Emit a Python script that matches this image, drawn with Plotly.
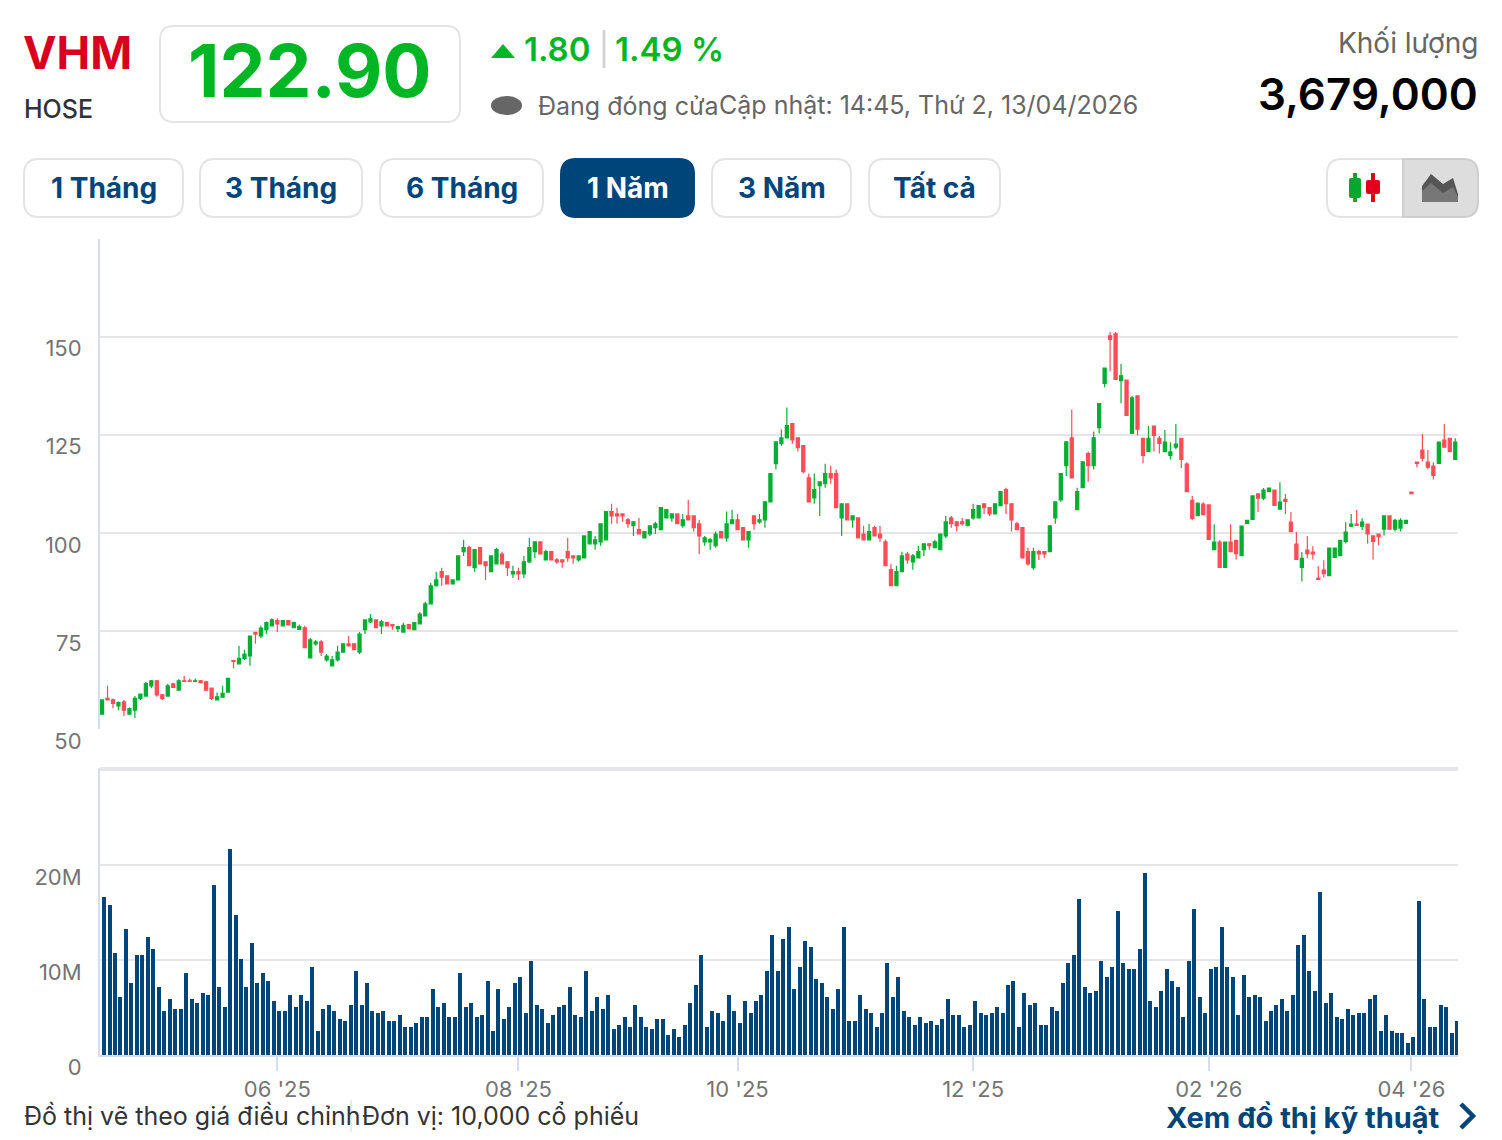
import plotly.graph_objects as go

open_px = [53.8,57.8,57.4,55.9,56.9,53.8,54.8,57.8,58.4,61.0,
62.3,58.7,58.4,61.5,59.9,62.3,62.3,62.1,62.3,62.0,
60.4,57.4,58.1,59.4,67.4,66.6,68.0,68.6,74.6,73.7,
75.3,76.3,77.6,76.3,77.6,75.8,75.4,75.8,68.1,71.7,
72.2,67.6,66.1,67.6,69.6,71.7,71.7,69.6,75.3,77.3,
77.8,76.3,77.1,76.6,75.6,74.7,76.6,75.3,76.8,78.8,
81.9,86.5,90.1,89.0,87.0,88.0,95.2,96.2,91.1,96.2,
92.6,90.1,92.1,94.6,92.6,89.5,90.1,89.5,92.6,95.2,
97.7,93.1,95.2,93.1,93.1,95.2,94.1,93.1,93.6,97.2,
97.2,97.7,98.2,105.4,104.8,104.8,103.3,101.8,100.8,98.7,
99.7,101.3,100.8,103.8,103.8,104.8,101.8,104.3,104.3,102.3,
97.7,97.7,96.7,100.3,98.7,102.3,103.3,101.3,98.2,104.3,
102.8,103.3,107.9,117.6,122.7,124.2,127.8,124.2,122.2,114.0,
108.9,112.0,112.5,115.1,115.1,103.8,107.4,103.3,103.8,99.7,
98.2,101.3,99.7,97.7,90.6,86.5,90.1,94.6,92.6,93.6,
95.7,97.2,96.2,95.7,99.2,103.8,102.8,102.8,101.8,103.8,
103.8,107.4,106.4,104.8,106.9,111.0,107.4,102.3,101.3,95.2,
91.1,95.2,95.2,95.2,103.8,108.4,117.1,124.2,105.9,111.5,
120.2,117.1,126.8,138.1,150.2,150.7,138.8,138.9,125.3,134.9,
124.1,120.7,127.2,124.1,120.7,119.7,121.8,124.1,117.5,108.3,
104.4,107.3,107.1,95.7,97.6,91.2,97.6,98.1,94.2,102.4,
103.4,109.9,108.8,110.5,110.9,106.0,108.5,102.7,97.1,91.2,
95.6,95.1,88.4,90.5,89.1,93.7,94.2,97.8,101.7,102.2,
101.7,102.2,99.2,99.7,100.9,104.3,100.9,101.2,102.4,110.4,
118.0,121.1,118.0,117.0,117.7,123.6,124.1,118.7]

high_px = [57.4,61.0,57.8,57.0,57.4,55.5,58.4,58.9,62.0,62.5,
62.5,58.9,61.5,61.8,62.7,63.5,62.9,62.9,62.5,62.3,
60.4,59.3,61.0,62.9,67.6,71.2,70.2,73.7,74.7,76.3,
77.4,78.2,78.2,77.8,77.8,77.3,76.6,76.3,73.2,72.7,
72.7,69.1,68.6,71.2,71.7,73.7,71.7,74.7,77.8,79.3,
77.8,77.8,77.1,76.8,76.3,77.1,76.6,77.3,79.8,82.4,
87.2,90.1,91.1,89.0,88.0,94.1,98.2,96.7,95.7,96.2,
92.6,94.1,96.2,95.2,92.6,91.6,91.1,94.1,98.7,97.7,
97.7,95.7,95.2,93.6,93.1,98.7,94.1,94.1,99.2,100.3,
99.2,102.3,105.4,107.4,106.4,104.8,103.8,102.8,103.8,100.3,
101.8,102.8,106.4,105.9,104.8,104.8,104.8,108.4,104.3,103.3,
99.2,98.7,100.3,100.3,105.4,105.9,104.8,101.3,100.3,104.3,
104.8,107.9,115.1,123.2,126.3,131.9,127.8,124.2,122.2,115.1,
115.1,113.0,117.6,117.1,116.1,107.4,107.4,104.3,103.8,101.8,
102.3,101.8,101.8,98.2,92.1,91.6,95.2,95.2,94.6,96.7,
97.2,97.2,98.2,99.7,104.3,104.3,102.8,103.8,103.3,107.4,
106.9,107.4,106.4,107.4,110.5,111.5,107.4,102.8,101.3,96.2,
96.2,95.7,95.2,101.8,107.9,115.1,123.2,131.4,111.5,118.1,
120.7,125.8,132.9,142.0,151.2,151.2,143.0,138.9,134.9,134.9,
124.1,127.2,127.2,124.7,126.2,123.1,127.7,124.1,118.0,109.4,
107.8,107.8,107.1,102.2,98.1,97.6,102.2,98.1,101.7,103.2,
109.4,109.9,111.4,111.4,110.9,112.9,109.9,105.3,100.2,95.1,
99.2,96.6,91.5,93.0,96.1,96.1,98.1,102.7,104.8,105.8,
103.7,102.2,99.2,99.7,104.3,104.3,103.6,103.7,103.2,110.4,
118.0,125.2,121.1,118.0,123.1,127.7,124.1,124.1]

low_px = [53.8,57.4,55.3,54.8,53.3,53.8,52.8,57.4,58.2,60.4,
58.2,57.4,58.2,60.5,59.9,62.0,62.0,62.0,61.6,59.9,
57.4,57.4,58.1,59.4,65.5,66.6,67.6,66.1,71.7,73.2,
74.2,76.1,74.7,76.3,76.4,75.8,75.3,70.7,68.1,71.2,
68.6,67.2,66.1,67.2,69.6,71.2,70.2,69.1,74.2,77.0,
75.8,74.2,76.3,75.3,74.7,74.7,75.6,75.3,76.8,78.8,
81.9,86.3,86.5,87.0,87.0,88.0,94.1,91.6,90.1,92.1,
88.0,90.1,92.1,92.1,89.0,88.5,88.0,88.5,92.3,93.6,
94.6,93.1,93.1,92.1,91.1,92.6,92.1,92.6,93.6,97.2,
95.7,96.7,98.2,102.3,102.3,102.8,101.3,99.2,99.7,98.7,
99.2,99.7,100.8,103.8,102.8,102.3,101.3,103.3,100.3,94.6,
96.7,95.7,96.2,98.7,97.7,102.3,100.8,98.2,96.2,100.8,
102.3,101.3,107.9,116.1,122.2,124.2,122.7,120.7,115.1,107.9,
107.4,104.3,111.5,112.5,106.4,99.2,103.3,101.3,98.7,98.2,
98.2,99.2,97.7,91.6,86.5,86.5,90.1,92.1,90.6,93.6,
94.1,95.7,96.2,95.7,98.7,101.3,100.3,101.8,101.8,103.3,
103.8,104.8,104.3,104.8,106.9,104.8,100.3,100.8,93.6,91.6,
90.6,93.1,93.6,95.2,102.3,107.9,114.5,114.0,105.9,111.5,
113.0,116.1,125.3,137.1,141.2,139.1,133.0,129.9,125.3,124.8,
117.7,120.7,120.7,120.2,120.7,118.7,121.3,116.5,110.5,103.2,
104.4,104.6,98.3,95.7,91.2,91.2,95.2,93.2,94.2,102.4,
103.4,105.3,108.3,110.5,107.0,106.0,104.8,100.3,93.2,87.6,
93.5,93.2,88.1,88.6,89.1,93.7,94.2,97.3,101.4,101.9,
100.7,97.3,93.2,96.8,99.3,100.9,100.3,100.3,102.4,110.0,
116.7,118.2,116.2,113.6,117.7,121.8,120.7,118.7]

close_px = [57.4,57.4,56.5,56.7,54.8,55.2,57.8,58.9,61.6,62.3,
58.7,57.8,61.0,60.6,62.3,62.1,62.1,62.3,61.8,59.9,
57.8,58.2,59.1,62.9,67.2,68.0,69.1,73.7,74.2,75.7,
77.1,77.8,76.8,77.6,76.5,77.1,76.1,70.7,72.7,72.2,
69.6,68.6,67.6,69.6,71.7,71.2,70.2,74.2,77.8,78.1,
75.8,77.3,76.3,76.3,76.1,76.4,75.6,77.1,79.3,81.9,
86.5,88.0,88.7,87.0,88.0,94.1,96.2,91.6,95.7,92.1,
91.6,94.1,95.7,92.1,91.1,90.1,89.5,92.6,96.2,97.7,
94.6,95.2,93.1,92.6,92.6,93.6,93.6,94.1,99.2,100.3,
98.2,102.3,105.4,104.3,104.3,104.3,102.3,102.8,99.7,100.3,
101.8,102.3,106.4,105.9,104.8,102.3,103.3,103.3,101.3,99.2,
98.7,98.2,99.7,98.7,102.3,103.3,100.8,98.2,100.3,102.3,
103.3,107.9,115.1,123.2,124.2,127.3,123.7,121.7,115.6,107.9,
111.0,113.0,115.1,114.0,106.4,107.4,103.3,104.3,98.7,98.2,
100.3,99.2,98.7,91.6,86.5,90.1,94.1,93.1,94.1,95.2,
97.2,96.7,97.7,99.7,102.8,102.3,101.8,102.3,103.3,105.9,
106.9,106.4,104.8,107.4,110.5,107.4,103.3,100.8,93.6,92.1,
95.2,94.6,94.6,101.8,107.9,115.1,123.2,114.0,110.5,118.1,
117.1,124.2,132.9,142.0,149.3,139.1,140.0,129.9,134.4,126.4,
119.7,124.1,124.8,122.8,123.1,120.6,122.6,118.7,110.5,103.7,
107.5,104.6,98.3,97.6,91.2,97.6,95.2,94.7,101.7,103.2,
109.4,108.8,110.9,111.4,107.0,107.8,108.0,100.3,93.2,93.5,
94.7,94.6,88.1,89.6,96.1,96.1,98.1,100.2,102.2,101.9,
102.7,99.7,97.8,99.0,104.3,100.9,103.2,103.2,103.2,110.0,
117.7,119.0,116.7,114.6,123.1,121.8,120.7,123.1]

volume_m = [16.6,15.8,10.7,6.1,13.3,7.6,10.5,10.5,12.4,11.2,
7.2,4.6,5.9,4.8,4.8,8.6,5.9,5.5,6.5,6.3,
17.9,7.2,5.1,21.7,14.7,10.1,7.2,11.8,7.6,8.6,
7.8,5.7,4.6,4.6,6.3,5.1,6.3,5.7,9.3,2.5,
4.8,5.3,4.6,3.8,3.6,5.3,8.8,5.3,7.6,4.6,
4.4,4.6,3.6,3.6,4.2,2.9,2.9,3.4,4.0,4.0,
6.9,5.1,5.5,4.0,4.0,8.6,5.1,5.5,4.0,4.2,
7.8,2.5,6.9,3.8,5.1,7.6,8.2,4.4,9.9,5.3,
4.8,3.4,4.2,5.1,5.3,7.2,4.2,4.0,8.8,4.6,
6.1,4.8,6.3,2.7,3.2,4.0,2.9,5.3,4.0,2.9,
2.7,3.8,3.8,2.1,2.7,1.9,3.2,5.5,7.4,10.5,
2.9,4.6,4.4,3.6,6.3,4.6,3.4,5.7,4.4,5.7,
6.3,8.8,12.6,8.8,12.2,13.5,6.9,9.3,12.0,11.4,
8.0,7.6,6.1,4.8,6.9,13.5,3.6,3.6,6.3,4.8,
4.4,2.9,4.4,9.7,6.1,8.2,4.6,4.0,3.2,4.0,
3.4,3.6,3.2,3.8,5.9,4.2,4.2,2.9,3.2,5.7,
4.4,4.2,4.4,5.1,4.4,7.4,7.8,2.9,6.5,5.3,
5.5,3.2,3.2,5.1,4.6,7.6,9.7,10.5,16.4,7.2,
6.5,6.7,9.9,8.2,9.3,15.2,9.7,9.1,9.1,11.2,
19.2,5.7,5.1,6.7,9.1,7.8,7.2,4.0,9.9,15.4,
6.1,4.4,9.1,9.3,13.5,9.3,8.2,4.2,8.4,6.1,
6.3,6.1,3.6,4.6,5.3,5.9,4.6,6.3,11.6,12.6,
8.8,6.7,17.1,5.5,6.5,4.0,3.8,4.8,4.2,4.4,
4.4,5.9,6.3,2.5,4.2,2.5,2.3,2.3,1.3,1.9,
16.2,5.9,2.9,2.9,5.3,5.1,2.3,3.6]

session = list(range(len(close_px)))
assert len(open_px) == len(high_px) == len(low_px) == len(close_px) == len(volume_m) == 248

month_ticks = [32, 76, 116, 159, 202, 239]
month_labels = ["06 '25", "08 '25", "10 '25", "12 '25", "02 '26", "04 '26"]
price_ticks = [50, 75, 100, 125, 150, 175]
price_labels = ["50", "75", "100", "125", "150", ""]
volume_ticks = [0, 10, 20, 30]
volume_labels = ["0", "10M", "20M", ""]

W, H = 1502, 1140
FONT = "Inter"
GREEN = "#06ad33"
RED = "#fb4c57"
NAVY = "#00457a"
TXT_GREEN = "#00b624"
GRID = "#e6e6e8"
AXIS = "#d5ddee"


def X(p):
    return p / W


def Y(p):
    return 1 - p / H


def rr(x0, y0, x1, y1, r, corners=(1, 1, 1, 1)):
    tl, tr, br, bl = [r * c for c in corners]
    return (f"M{X(x0+tl)},{Y(y0)} L{X(x1-tr)},{Y(y0)} Q{X(x1)},{Y(y0)} {X(x1)},{Y(y0+tr)} "
            f"L{X(x1)},{Y(y1-br)} Q{X(x1)},{Y(y1)} {X(x1-br)},{Y(y1)} "
            f"L{X(x0+bl)},{Y(y1)} Q{X(x0)},{Y(y1)} {X(x0)},{Y(y1-bl)} "
            f"L{X(x0)},{Y(y0+tl)} Q{X(x0)},{Y(y0)} {X(x0+tl)},{Y(y0)} Z")


def poly(points, close=True):
    s = "M" + " L".join(f"{X(a)},{Y(b)}" for a, b in points)
    return s + (" Z" if close else "")


shapes = []


def add_path(path, fill="rgba(0,0,0,0)", line="rgba(0,0,0,0)", width=0):
    shapes.append(dict(type="path", xref="paper", yref="paper", path=path,
                       fillcolor=fill, line=dict(color=line, width=width), layer="below"))


annos = []


def text(s, x, y, size, color, anchor="left", weight=400):
    annos.append(dict(text=s, xref="paper", yref="paper", x=X(x), y=Y(y), showarrow=False,
                      xanchor=anchor, yanchor="middle", align=anchor,
                      font=dict(family=FONT, size=size, color=color, weight=weight),
                      borderpad=0, borderwidth=0))


# header
text("VHM", 23, 52, 45, "#d9001f", weight=700)
text("HOSE", 24, 109, 25, "#333333", weight=500)
add_path(rr(160, 26, 460, 122, 14), "#ffffff", "#e4e4e4", 2)
text("122.90", 310, 71, 73, TXT_GREEN, "center", 700)
add_path(poly([(491, 58), (503, 44), (515, 58)]), TXT_GREEN)
text("1.80", 524, 49, 33, TXT_GREEN, weight=600)
add_path(poly([(604, 30), (604, 68)], False), line="#d4d4d4", width=3)
text("1.49 %", 615, 49, 33, TXT_GREEN, weight=600)
shapes.append(dict(type="circle", xref="paper", yref="paper", x0=X(491), x1=X(522), y0=Y(115), y1=Y(96),
                   fillcolor="#666666", line=dict(width=0), layer="below"))
text("Đang đóng cửa", 538, 106, 25, "#666666")
text("Cập nhật: 14:45, Thứ 2, 13/04/2026", 719, 105, 25, "#666666")
text("Khối lượng", 1478, 43, 28, "#666666", "right")
text("3,679,000", 1478, 94, 44, "#000000", "right", 600)

# range buttons
buttons = [("1 Tháng", 24, 183), ("3 Tháng", 200, 362), ("6 Tháng", 380, 543),
           ("1 Năm", 561, 694), ("3 Năm", 712, 851), ("Tất cả", 869, 1000)]
for label, a, b in buttons:
    active = label == "1 Năm"
    add_path(rr(a, 159, b, 217, 15), NAVY if active else "#ffffff", NAVY if active else "#e4e4e4", 2)
    text(label, (a + b) / 2, 188, 28, "#ffffff" if active else NAVY, "center", 700)

# chart-type toggle
add_path(rr(1327, 159, 1403, 217, 15, (1, 0, 0, 1)), "#ffffff", "#e4e4e4", 2)
add_path(rr(1403, 159, 1478, 217, 15, (0, 1, 1, 0)), "#dddddd", "#cfcfcf", 2)
add_path(poly([(1355, 173), (1355, 202)], False), line="#05a82c", width=4)
add_path(rr(1349, 178, 1361, 198, 2), "#05a82c")
add_path(poly([(1373, 173), (1373, 202)], False), line="#e2001c", width=4)
add_path(rr(1366, 180, 1380, 194, 2), "#e2001c")
add_path(poly([(1422, 202), (1422, 186), (1431, 174), (1443, 184), (1453, 178), (1458, 194), (1458, 202)]), "#555555")
add_path(poly([(1422, 202), (1422, 191), (1431, 183), (1443, 193), (1453, 187), (1458, 197), (1458, 202)]), "#777777")

# footer
text("Đồ thị vẽ theo giá điều chỉnh", 24, 1116, 25, "#333333")
add_path(poly([(351, 1100), (351, 1132)], False), line="#dfe3ea", width=1.5)
text("Đơn vị: 10,000 cổ phiếu", 362, 1116, 25, "#333333")
text("Xem đồ thị kỹ thuật", 1440, 1117, 29, NAVY, "right", 700)
add_path(poly([(1461, 1104), (1473, 1116), (1461, 1128)], False), line=NAVY, width=4.5)

fig = go.Figure()
fig.add_trace(go.Candlestick(
    x=session, open=open_px, high=high_px, low=low_px, close=close_px,
    xaxis="x2", yaxis="y",
    increasing=dict(line=dict(color=GREEN, width=1.2), fillcolor=GREEN),
    decreasing=dict(line=dict(color=RED, width=1.2), fillcolor=RED),
    whiskerwidth=0, showlegend=False, name="VHM"))
fig.add_trace(go.Bar(
    x=session, y=volume_m, xaxis="x", yaxis="y2", width=0.73, offset=0,
    marker=dict(color=NAVY, line=dict(width=0)), showlegend=False, name="Khối lượng"))

x_range = [-0.37, 247.5]
tickfont = dict(family=FONT, size=22, color="#747474")
fig.update_layout(
    width=W, height=H, margin=dict(l=0, r=0, t=0, b=0, pad=0, autoexpand=False),
    paper_bgcolor="#ffffff", plot_bgcolor="#ffffff",
    boxgap=0.25, boxgroupgap=0.25, bargap=0,
    hovermode=False, shapes=shapes, annotations=annos,
    font=dict(family=FONT),
    xaxis=dict(domain=[X(100), X(1458)], range=x_range, anchor="y2", tickmode="array",
               tickvals=month_ticks, ticktext=month_labels, ticks="outside", ticklen=14,
               tickwidth=2, tickcolor=AXIS, tickfont=tickfont, showgrid=False, zeroline=False,
               showline=True, linecolor=AXIS, linewidth=2, ticklabelstandoff=0),
    xaxis2=dict(domain=[X(100), X(1458)], range=x_range, anchor="y", rangeslider=dict(visible=False),
                showticklabels=False, ticks="", showgrid=False, zeroline=False, showline=False),
    yaxis=dict(domain=[1 - 729 / H, 1 - 238.5 / H], range=[50, 175], anchor="x2", tickmode="array",
               tickvals=price_ticks, ticktext=price_labels, tickfont=tickfont, ticks="",
               showgrid=True, gridcolor=GRID, gridwidth=2, zeroline=False, showline=True,
               linecolor=AXIS, linewidth=2, ticklabelstandoff=12, ticklabelshift=12),
    yaxis2=dict(domain=[1 - 1055 / H, 1 - 768 / H], range=[0, 30.2], anchor="x", tickmode="array",
                tickvals=volume_ticks, ticktext=volume_labels, tickfont=tickfont, ticks="",
                showgrid=True, gridcolor=GRID, gridwidth=2, zeroline=False, showline=True,
                linecolor=AXIS, linewidth=2, ticklabelstandoff=12, ticklabelshift=12),
)
shapes.append(dict(type="line", xref="paper", yref="paper", x0=X(100), x1=X(1458), y0=Y(768), y1=Y(768),
                   line=dict(color=GRID, width=2), layer="below"))
fig.update_layout(shapes=shapes)

fig.write_html("out.html", config=dict(displayModeBar=False),
               post_script="document.body.style.margin='0';document.body.style.overflow='hidden';")
